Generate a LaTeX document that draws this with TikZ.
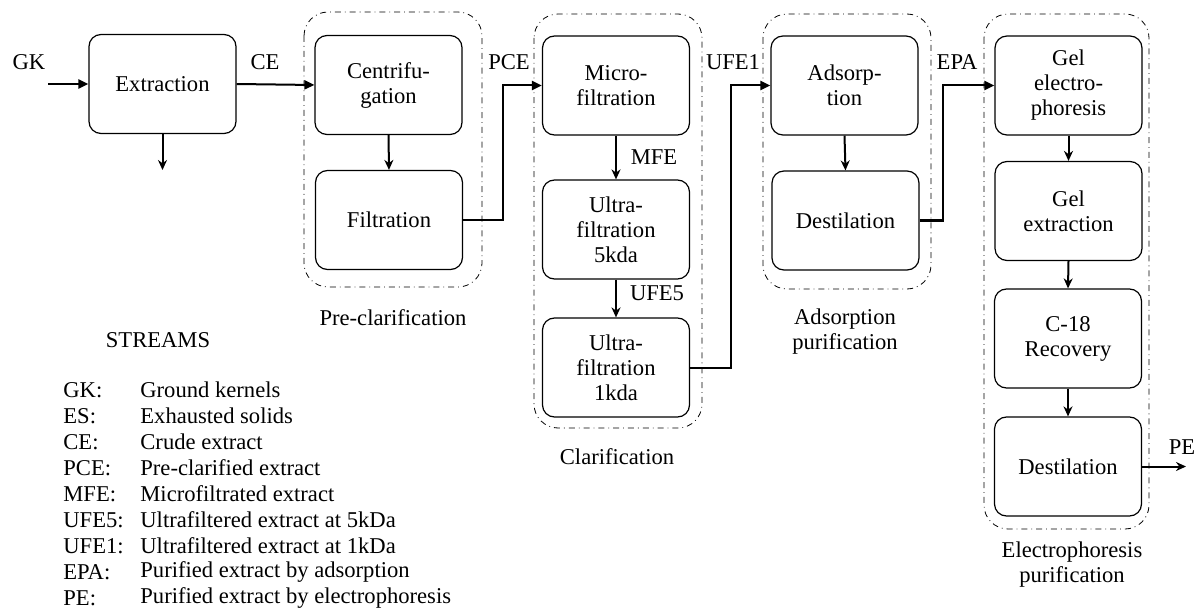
\documentclass[tikz,border=0pt]{standalone}
\usepackage{fontspec}
\setmainfont{LiberationSerif}[Extension=.ttf,UprightFont=*-Regular,BoldFont=*-Bold,ItalicFont=*-Italic,BoldItalicFont=*-BoldItalic]
\usepackage{tikz}
\usetikzlibrary{arrows.meta}

\tikzset{
  unitbox/.style={draw, line width=0.6pt, rounded corners=6pt, minimum width=73.5pt, minimum height=49.5pt, align=center, inner sep=1pt},
  groupbox/.style={draw, line width=0.4pt, dash dot, rounded corners=12pt},
  flowline/.style={line width=1pt, -{Triangle[length=5pt,width=4.5pt]}},
  downline/.style={line width=1pt, -{Stealth[length=5pt,width=4.5pt]}}
}

\begin{document}
\begin{tikzpicture}[x=0.5pt,y=0.5pt,yscale=-1,xscale=1,font=\fontsize{11.3}{12.5}\selectfont]
\useasboundingbox (0,0) rectangle (1195,615);

%Rounded Rect: groups
\draw [groupbox] (304,12) rectangle (482,287);
\draw [groupbox] (534,14) rectangle (702,428);
\draw [groupbox] (763,14) rectangle (931,289);
\draw [groupbox] (984,14) rectangle (1149,529);

%Units
\node [unitbox] (ext) at (162.5,84) {Extraction};
\node [unitbox] (cen) at (388.5,85) {Centrifu-\\gation};
\node [unitbox] (fil) at (389,220) {Filtration};
\node [unitbox] (mic) at (616,85.5) {Micro-\\filtration};
\node [unitbox] (uf5) at (616,229.5) {Ultra-\\filtration\\5kda};
\node [unitbox] (uf1) at (616,367.5) {Ultra-\\filtration\\1kda};
\node [unitbox] (ads) at (844.5,85.5) {Adsorp-\\tion};
\node [unitbox] (des1) at (845.5,220.5) {Destilation};
\node [unitbox] (gel) at (1068.5,85.5) {Gel\\electro-\\phoresis};
\node [unitbox] (gex) at (1068.5,211) {Gel\\extraction};
\node [unitbox] (c18) at (1068,338.5) {C-18\\Recovery};
\node [unitbox] (des2) at (1068,466.5) {Destilation};

%Free ends
\coordinate (gkin) at (48,84);
\coordinate (esout) at (162.5,170);
\coordinate (peout) at (1186,466.5);

%Streams
\draw [flowline] (gkin) -- (ext.west);
\draw [downline] (ext.south) -- (esout);
\draw [flowline] (ext.east) -- (cen.west);
\draw [downline] (cen.south) -- (fil.north);
\draw [flowline] (fil.east) -- ++(40,0) |- (mic.west);
\draw [downline] (mic.south) -- (uf5.north);
\draw [downline] (uf5.south) -- (uf1.north);
\draw [flowline] (uf1.east) -- ++(41,0) |- (ads.west);
\draw [downline] (ads.south) -- (des1.north);
\draw [flowline] (des1.east) -- ++(23,0) |- (gel.west);
\draw [downline] (gel.south) -- (gex.north);
\draw [downline] (gex.south) -- (c18.north);
\draw [downline] (c18.south) -- (des2.north);
\draw [downline] (des2.east) -- (peout);

% Text Node: stream labels
\node (gk) at (29,62) {GK};
\node (ce) at (265,62) {CE};
\node (pce) at (509,62) {PCE};
\node (mfe) at (654,157) {MFE};
\node (ufe5) at (657,293) {UFE5};
\node (ufe1) at (733,62) {UFE1};
\node (epa) at (957,62) {EPA};
\node (pe) at (1182,447) {PE};

% Text Node: group labels
\node (prelab) at (393,318) {Pre-clarification};
\node (clalab) at (617,457) {Clarification};
\node [align=center] (adplab) at (845,332) {Adsorption\\purification};
\node [align=center] (elplab) at (1072,565) {Electrophoresis\\purification};

% Text Node: legend
\node (streams) at (158,340) {STREAMS};
\node [anchor=west,inner sep=0pt] (kgk) at (63,390) {GK:};
\node [anchor=west,inner sep=0pt] (dgk) at (140,390) {Ground kernels};
\node [anchor=west,inner sep=0pt] (kes) at (63,416) {ES:};
\node [anchor=west,inner sep=0pt] (des) at (140,416) {Exhausted solids};
\node [anchor=west,inner sep=0pt] (kce) at (63,442) {CE:};
\node [anchor=west,inner sep=0pt] (dce) at (140,442) {Crude extract};
\node [anchor=west,inner sep=0pt] (kpce) at (63,468) {PCE:};
\node [anchor=west,inner sep=0pt] (dpce) at (140,468) {Pre-clarified extract};
\node [anchor=west,inner sep=0pt] (kmfe) at (63,494) {MFE:};
\node [anchor=west,inner sep=0pt] (dmfe) at (140,494) {Microfiltrated extract};
\node [anchor=west,inner sep=0pt] (kufe5) at (63,520) {UFE5:};
\node [anchor=west,inner sep=0pt] (dufe5) at (140,520) {Ultrafiltered extract at 5kDa};
\node [anchor=west,inner sep=0pt] (kufe1) at (63,546) {UFE1:};
\node [anchor=west,inner sep=0pt] (dufe1) at (140,546) {Ultrafiltered extract at 1kDa};
\node [anchor=west,inner sep=0pt] (kepa) at (63,572) {EPA:};
\node [anchor=west,inner sep=0pt] (depa) at (140,572) {Purified extract by adsorption};
\node [anchor=west,inner sep=0pt] (kpe) at (63,598) {PE:};
\node [anchor=west,inner sep=0pt] (dpe) at (140,598) {Purified extract by electrophoresis};

\end{tikzpicture}
\end{document}
